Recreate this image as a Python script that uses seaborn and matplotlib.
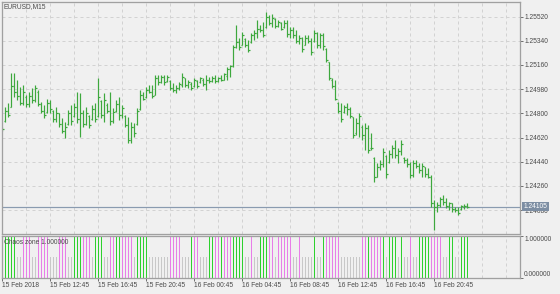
import numpy as np
import pandas as pd
import matplotlib
matplotlib.use("Agg")
import matplotlib.pyplot as plt
import matplotlib.transforms as mtransforms
import seaborn as sns

# ---------------- data (EURUSD M15, one bar per 15 minutes, from 15 Feb 08:45) ----------------
high = [1.24698, 1.24847, 1.24877, 1.25100, 1.25100, 1.25048, 1.24996, 1.25011, 1.24936, 1.24958,
        1.24988, 1.25011, 1.24973, 1.24884, 1.24862, 1.24906, 1.24899, 1.24825, 1.24847, 1.24802,
        1.24765, 1.24735, 1.24825, 1.24862, 1.24877, 1.24958, 1.24951, 1.24825, 1.24847, 1.24787,
        1.24862, 1.24877, 1.25063, 1.24899, 1.24951, 1.24877, 1.24958, 1.24839, 1.24899, 1.24921,
        1.24862, 1.24787, 1.24773, 1.24735, 1.24728, 1.24839, 1.24973, 1.24958, 1.24996, 1.25011,
        1.25011, 1.25085, 1.25085, 1.25085, 1.25085, 1.25085, 1.25048, 1.25025, 1.25011, 1.25033,
        1.25100, 1.25063, 1.25048, 1.25033, 1.25063, 1.25048, 1.25070, 1.25063, 1.25085, 1.25070,
        1.25078, 1.25085, 1.25070, 1.25085, 1.25100, 1.25145, 1.25159, 1.25308, 1.25457, 1.25360,
        1.25405, 1.25360, 1.25345, 1.25397, 1.25420, 1.25494, 1.25457, 1.25479, 1.25554, 1.25531,
        1.25539, 1.25509, 1.25494, 1.25479, 1.25494, 1.25494, 1.25442, 1.25442, 1.25420, 1.25383,
        1.25368, 1.25383, 1.25383, 1.25360, 1.25420, 1.25405, 1.25397, 1.25397, 1.25286, 1.25182,
        1.25063, 1.25048, 1.24884, 1.24877, 1.24862, 1.24877, 1.24847, 1.24773, 1.24765, 1.24802,
        1.24713, 1.24728, 1.24713, 1.24653, 1.24475, 1.24430, 1.24453, 1.24542, 1.24490, 1.24527,
        1.24564, 1.24601, 1.24542, 1.24601, 1.24475, 1.24468, 1.24438, 1.24453, 1.24453, 1.24430,
        1.24430, 1.24401, 1.24393, 1.24341, 1.24155, 1.24140, 1.24177, 1.24192, 1.24170, 1.24140,
        1.24133, 1.24103, 1.24103, 1.24118, 1.24125, 1.24133]
low = [1.24668, 1.24735, 1.24773, 1.24847, 1.24921, 1.24899, 1.24862, 1.24862, 1.24847, 1.24847,
       1.24877, 1.24884, 1.24854, 1.24802, 1.24765, 1.24802, 1.24802, 1.24735, 1.24735, 1.24698,
       1.24653, 1.24616, 1.24713, 1.24713, 1.24773, 1.24728, 1.24624, 1.24698, 1.24713, 1.24691,
       1.24750, 1.24735, 1.24773, 1.24765, 1.24735, 1.24802, 1.24713, 1.24728, 1.24810, 1.24750,
       1.24765, 1.24698, 1.24579, 1.24579, 1.24624, 1.24713, 1.24825, 1.24899, 1.24914, 1.24951,
       1.24914, 1.24936, 1.25011, 1.25025, 1.25011, 1.25033, 1.24973, 1.24958, 1.24951, 1.24973,
       1.24996, 1.24996, 1.24988, 1.24973, 1.24996, 1.24988, 1.25025, 1.25003, 1.24973, 1.25025,
       1.25033, 1.25025, 1.25033, 1.25040, 1.25048, 1.25048, 1.25070, 1.25145, 1.25286, 1.25271,
       1.25308, 1.25293, 1.25256, 1.25323, 1.25345, 1.25360, 1.25405, 1.25368, 1.25435, 1.25457,
       1.25442, 1.25435, 1.25442, 1.25420, 1.25435, 1.25368, 1.25360, 1.25360, 1.25323, 1.25316,
       1.25256, 1.25308, 1.25323, 1.25234, 1.25331, 1.25286, 1.25286, 1.25271, 1.25182, 1.25048,
       1.24988, 1.24899, 1.24802, 1.24735, 1.24802, 1.24787, 1.24765, 1.24616, 1.24639, 1.24624,
       1.24601, 1.24527, 1.24505, 1.24527, 1.24289, 1.24326, 1.24378, 1.24401, 1.24319, 1.24430,
       1.24468, 1.24468, 1.24430, 1.24490, 1.24430, 1.24401, 1.24319, 1.24326, 1.24393, 1.24356,
       1.24326, 1.24326, 1.24319, 1.24103, 1.23932, 1.24066, 1.24103, 1.24118, 1.24095, 1.24081,
       1.24066, 1.24066, 1.24043, 1.24081, 1.24088, 1.24095]
open_ = [1.24690, 1.24740, 1.24820, 1.24850, 1.25000, 1.24960, 1.24930, 1.24880, 1.24920, 1.24870,
         1.24930, 1.24900, 1.24960, 1.24870, 1.24820, 1.24810, 1.24880, 1.24820, 1.24760, 1.24800,
         1.24720, 1.24670, 1.24720, 1.24800, 1.24780, 1.24850, 1.24760, 1.24800, 1.24720, 1.24780,
         1.24760, 1.24830, 1.24780, 1.24890, 1.24790, 1.24860, 1.24820, 1.24740, 1.24820, 1.24870,
         1.24790, 1.24780, 1.24710, 1.24600, 1.24700, 1.24720, 1.24830, 1.24940, 1.24920, 1.24970,
         1.24960, 1.24940, 1.25060, 1.25030, 1.25070, 1.25040, 1.25040, 1.24990, 1.24970, 1.24990,
         1.25010, 1.25060, 1.25010, 1.25020, 1.25000, 1.25040, 1.25030, 1.25050, 1.25020, 1.25050,
         1.25040, 1.25060, 1.25040, 1.25060, 1.25050, 1.25080, 1.25130, 1.25150, 1.25290, 1.25330,
         1.25310, 1.25350, 1.25310, 1.25330, 1.25380, 1.25400, 1.25430, 1.25420, 1.25440, 1.25520,
         1.25470, 1.25500, 1.25450, 1.25470, 1.25440, 1.25470, 1.25390, 1.25420, 1.25380, 1.25340,
         1.25360, 1.25310, 1.25360, 1.25340, 1.25340, 1.25400, 1.25310, 1.25380, 1.25280, 1.25180,
         1.25050, 1.25000, 1.24880, 1.24820, 1.24810, 1.24850, 1.24830, 1.24770, 1.24650, 1.24730,
         1.24700, 1.24640, 1.24690, 1.24540, 1.24470, 1.24330, 1.24400, 1.24420, 1.24480, 1.24440,
         1.24500, 1.24540, 1.24490, 1.24520, 1.24470, 1.24450, 1.24420, 1.24340, 1.24430, 1.24410,
         1.24380, 1.24400, 1.24350, 1.24330, 1.24130, 1.24100, 1.24120, 1.24160, 1.24140, 1.24110,
         1.24130, 1.24090, 1.24080, 1.24090, 1.24100, 1.24110]
close = [1.24680, 1.24820, 1.24790, 1.25000, 1.24960, 1.24930, 1.24880, 1.24960, 1.24870, 1.24930,
         1.24900, 1.24990, 1.24870, 1.24820, 1.24790, 1.24880, 1.24830, 1.24760, 1.24800, 1.24720,
         1.24670, 1.24700, 1.24800, 1.24740, 1.24850, 1.24760, 1.24800, 1.24720, 1.24800, 1.24710,
         1.24830, 1.24760, 1.24920, 1.24790, 1.24900, 1.24820, 1.24740, 1.24810, 1.24870, 1.24790,
         1.24840, 1.24710, 1.24600, 1.24700, 1.24650, 1.24820, 1.24940, 1.24910, 1.24970, 1.24960,
         1.24930, 1.25060, 1.25030, 1.25070, 1.25030, 1.25070, 1.24990, 1.24970, 1.24990, 1.25020,
         1.25070, 1.25010, 1.25030, 1.24990, 1.25050, 1.25000, 1.25060, 1.25020, 1.25050, 1.25040,
         1.25060, 1.25040, 1.25060, 1.25050, 1.25090, 1.25130, 1.25150, 1.25290, 1.25330, 1.25290,
         1.25380, 1.25310, 1.25270, 1.25380, 1.25400, 1.25430, 1.25420, 1.25380, 1.25520, 1.25470,
         1.25510, 1.25450, 1.25480, 1.25430, 1.25470, 1.25390, 1.25420, 1.25380, 1.25340, 1.25360,
         1.25280, 1.25360, 1.25340, 1.25260, 1.25400, 1.25310, 1.25380, 1.25300, 1.25200, 1.25060,
         1.25000, 1.24910, 1.24820, 1.24760, 1.24850, 1.24830, 1.24780, 1.24640, 1.24730, 1.24780,
         1.24640, 1.24690, 1.24530, 1.24540, 1.24330, 1.24400, 1.24420, 1.24510, 1.24350, 1.24500,
         1.24540, 1.24490, 1.24520, 1.24570, 1.24450, 1.24420, 1.24340, 1.24430, 1.24410, 1.24380,
         1.24410, 1.24350, 1.24330, 1.24130, 1.24100, 1.24120, 1.24160, 1.24140, 1.24110, 1.24130,
         1.24090, 1.24080, 1.24060, 1.24110, 1.24110, 1.24105]

# Chaos zone state per bar: g = green zone, m = magenta zone, n = neutral
zone_states = list(("ggggg nn mmm nn mmmm nnn mmm nn ggg mmm n ggg nn mm gg mmmm n gggg nnnnnnn "
                    "mmmm nnn g mm nnn gg mm g mmm gggg nn m nn ggg mm n mmmmm nn m nnnn g nn g "
                    "mmmmm nnnnnnn mm g mmmm g n ggg n g nn m nn gggg mmmm nn gg nn ggg").replace(" ", ""))
zone_height = {"g": 1.0, "m": 1.0, "n": 0.5}

price_ticks = [1.24080, 1.24260, 1.24440, 1.24620, 1.24800, 1.24980, 1.25160, 1.25340, 1.25520]
date_labels = ["15 Feb 2018", "15 Feb 12:45", "15 Feb 16:45", "15 Feb 20:45", "16 Feb 00:45",
               "16 Feb 04:45", "16 Feb 08:45", "16 Feb 12:45", "16 Feb 16:45", "16 Feb 20:45"]
date_label_bars = [0, 16, 32, 48, 64, 80, 96, 112, 128, 144]

# ---------------- style ----------------
BG = "#f0f0f0"
sns.set_style("white", {"axes.facecolor": BG, "figure.facecolor": BG})
plt.rcParams["font.family"] = ["Liberation Sans", "DejaVu Sans"]
FS = 4.8
TXT = "#4a4a4a"
SPINE = "#a0a0a0"
GRID = "#d2d2d2"
BAR_GREEN = "#3da83d"
PX = 0.72  # one pixel in points at 100 dpi

n = len(high)
x = np.arange(n)

fig = plt.figure(figsize=(5.6, 2.94), dpi=100, facecolor=BG)
W, H = 560.0, 294.0
ax = fig.add_axes([1.5 / W, (H - 233.5) / H, (520 - 1.5) / W, 232 / H])
ax2 = fig.add_axes([1.5 / W, 16 / H, (520 - 1.5) / W, 42 / H])

xlim = (-0.33, 172.5)

# ---------------- main OHLC panel ----------------
ax.vlines(x, low, high, color=BAR_GREEN, lw=1.0 * PX * 1.2)
ax.hlines(open_, x - 0.36, x, color=BAR_GREEN, lw=PX * 1.2)
ax.hlines(close, x, x + 0.36, color=BAR_GREEN, lw=PX * 1.2)
ax.set_xlim(*xlim)
ax.set_ylim(1.23906, 1.25632)

ax.yaxis.tick_right()
ax.set_yticks(price_ticks)
ax.set_yticklabels([f"{v:.5f}" for v in price_ticks])
ax.tick_params(axis="y", length=3 * PX, width=PX, color="#707070", pad=1.2 * PX,
               labelsize=FS, labelcolor=TXT, right=True, left=False)
ax.set_xticks(np.arange(0, 173, 8))
ax.tick_params(axis="x", length=0, labelbottom=False)
ax.grid(True, color=GRID, lw=PX, linestyle=(0, (3, 3)))
ax.set_axisbelow(True)
for s in ax.spines.values():
    s.set_color(SPINE)
    s.set_linewidth(PX * 1.3)

# current price line + label
last = close[-1]
ax.axhline(last, color="#8a9bb0", lw=PX * 1.2, zorder=1)
trans = mtransforms.blended_transform_factory(ax.transAxes, ax.transData)
ax.text(1.0 + 3.5 / 518.5, last, f"{last:.5f}", transform=trans, fontsize=FS, color="white",
        va="center", ha="left", clip_on=False, zorder=10,
        bbox=dict(boxstyle="square,pad=0.18", facecolor="#7d8ea3", edgecolor="none"))

fig.text(4 / W, 1 - 6.5 / H, "EURUSD,M15", fontsize=FS, color=TXT, va="center", ha="left")

# ---------------- chaos zone panel ----------------
df = pd.DataFrame({"bar": x,
                   "state": zone_states,
                   "value": [zone_height[s] for s in zone_states]})
palette = {"g": "#2ed12e", "m": "#e87de8", "n": "#c8c8c8"}
sns.barplot(data=df, x="bar", y="value", hue="state", palette=palette, native_scale=True,
            dodge=False, width=0.42, errorbar=None, legend=False, linewidth=0,
            saturation=1, ax=ax2)
ax2.set_xlim(*xlim)
ax2.set_ylim(0, 1)
ax2.set_xlabel("")
ax2.set_ylabel("")
ax2.yaxis.tick_right()
ax2.set_yticks([0, 1])
ax2.set_yticklabels(["0.000000", "1.000000"])
for lbl, va in zip(ax2.get_yticklabels(), ["bottom", "top"]):
    lbl.set_va(va)
ax2.tick_params(axis="y", length=3 * PX, width=PX, color="#707070", pad=1.2 * PX,
                labelsize=FS, labelcolor=TXT)
ax2.set_xticks(date_label_bars)
ax2.set_xticklabels(date_labels)
for lbl in ax2.get_xticklabels():
    lbl.set_ha("left")
ax2.tick_params(axis="x", length=3 * PX, width=PX, color="#707070", pad=1.0 * PX,
                labelsize=FS, labelcolor=TXT, bottom=True)
ax2.set_xticks(np.arange(0, 173, 8), minor=True)
ax2.tick_params(axis="x", which="minor", length=0)
ax2.grid(True, which="minor", axis="x", color=GRID, lw=PX, linestyle=(0, (3, 3)))
ax2.grid(False, which="major", axis="y")
ax2.set_axisbelow(True)
for s in ax2.spines.values():
    s.set_color(SPINE)
    s.set_linewidth(PX * 1.3)

fig.text(4 / W, 1 - 243 / H, f"Chaos zone {df['value'].iloc[-1]:.6f}", fontsize=FS,
         color=TXT, va="center", ha="left")

fig.savefig("out.png", dpi=100, facecolor=BG)
